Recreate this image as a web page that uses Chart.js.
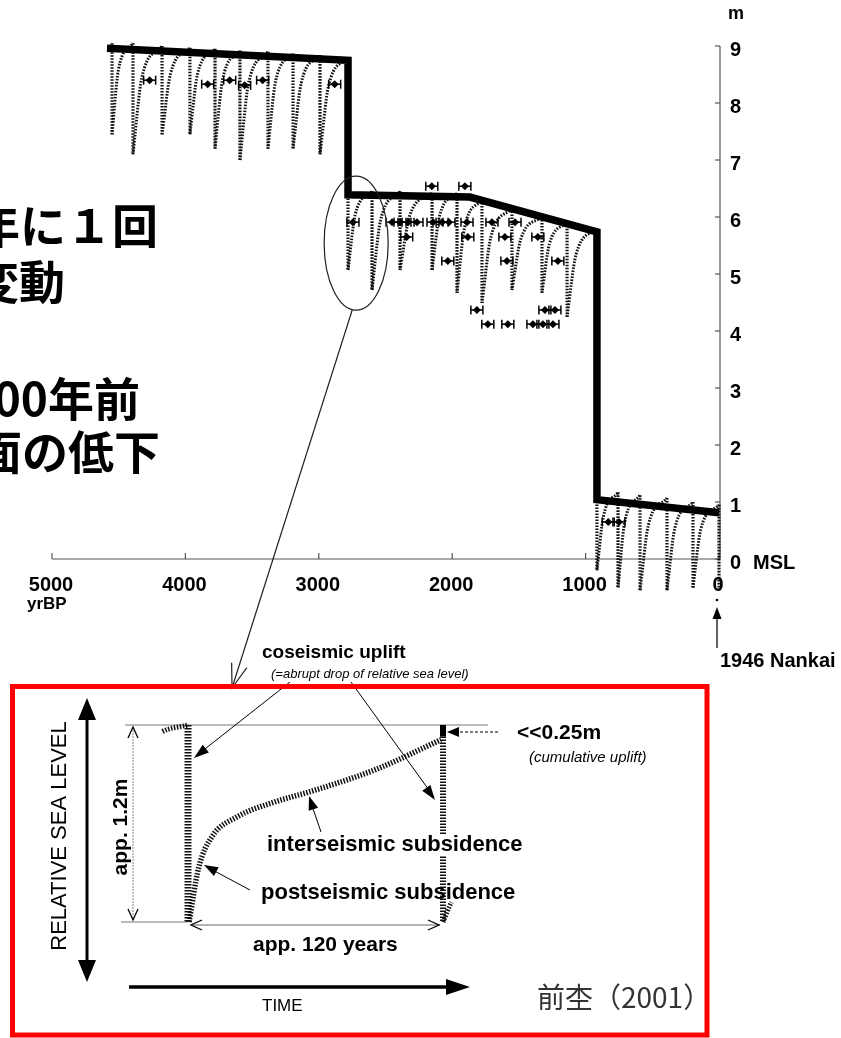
<!DOCTYPE html>
<html>
<head>
<meta charset="utf-8">
<script src="https://cdn.jsdelivr.net/npm/chart.js@4.4.0/dist/chart.umd.min.js"></script>
<style>
  html, body { margin: 0; padding: 0; background: #fff; }
  #wrap { position: relative; width: 841px; height: 1038px; overflow: hidden; }
  canvas { position: absolute; left: 0; top: 0; }
</style>
</head>
<body>
<div id="wrap">
  <canvas id="main" width="841" height="1038"></canvas>
  <canvas id="inset" width="841" height="1038"></canvas>
</div>
<script>
// ---- main chart data (yrBP, metres above MSL) ----
const xTicks = [5000, 4000, 3000, 2000, 1000, 0];
const yTicks = [0, 1, 2, 3, 4, 5, 6, 7, 8, 9];

// thick envelope of the emerged shorelines
const stepYr  = [4588, 2781, 2781, 1868, 915, 915, 0];
const stepLvl = [8.96, 8.75, 6.39, 6.35, 5.74, 1.04, 0.81];

// earthquake events: level before / after the coseismic drop
const quakeYr   = [4550, 4393, 4175, 3966, 3778, 3591, 3381, 3193, 2991, 2781, 2601, 2391, 2151, 1964, 1777, 1552, 1327, 1139, 915, 757, 592, 390, 195, 0];
const quakeHigh = [9.05, 9.05, 9.00, 8.97, 8.95, 8.92, 8.90, 8.87, 8.84, 8.80, 6.45, 6.45, 6.42, 6.42, 6.30, 6.15, 6.00, 5.90, 5.80, 1.17, 1.12, 1.07, 1.00, 0.95];
const quakeLow  = [7.45, 7.10, 7.45, 7.45, 7.20, 7.00, 7.20, 7.20, 7.10, 5.07, 4.72, 5.07, 5.07, 4.67, 4.49, 4.72, 4.67, 4.25, -0.20, -0.50, -0.55, -0.55, -0.50, -0.55];
// bend of each interseismic recovery curve
const kneeYr  = [4503, 4328, 4112, 3910, 3722, 3528, 3325, 3132, 2928, 2727, 2538, 2319, 2095, 1908, 1710, 1485, 1271, 1072, 868, 708, 531, 332, 137];
const kneeLvl = [8.57, 8.43, 8.51, 8.50, 8.40, 8.33, 8.37, 8.35, 8.29, 6.04, 5.93, 6.02, 6.02, 5.81, 5.65, 5.62, 5.53, 5.34, 0.73, 0.63, 0.58, 0.53, 0.52];

// dated fossils (age, level) with age error
const ageYr  = [4268, 3833, 3668, 3556, 3421, 2881,
                2153, 1905,
                2744, 2451, 2391, 2331, 2264, 2144, 2076, 2024, 1889, 1702, 1529,
                2341, 1883, 1605, 1358,
                2033, 1590, 1208,
                1815, 1305, 1230,
                1733, 1583, 1395, 1320, 1245,
                830, 750];
const ageLvl = [8.40, 8.33, 8.40, 8.31, 8.40, 8.33,
                6.54, 6.54,
                5.91, 5.91, 5.91, 5.91, 5.91, 5.91, 5.91, 5.91, 5.91, 5.91, 5.91,
                5.65, 5.65, 5.65, 5.65,
                5.23, 5.23, 5.23,
                4.37, 4.37, 4.37,
                4.12, 4.12, 4.12, 4.12, 4.12,
                0.65, 0.65];
const ageErr = 45;

// ---- inset data (years after event, metres of relative sea level) ----
const cycleT = [0, 120];
const cycleTop = 1.2;
const cycleUplift = 1.13;
const prevT = [-21, -12, 0];
const prevM = [1.07, 1.16, 1.2];
const riseT = [0.5, 5, 11.3, 23, 40.5, 59, 88.5, 119];
const riseM = [0, 0.33, 0.52, 0.64, 0.73, 0.80, 0.93, 1.11];
const nextT = [120, 124, 142];
const nextM = [0, 0.12, 0.33];

const SANS = '"Liberation Sans", Arial, Helvetica, sans-serif';
const CJK = '"Noto Sans CJK JP", "Noto Sans", sans-serif';
const INK = '#111';

function pts(xs, ys) { return xs.map((x, i) => ({ x: x, y: ys[i] })); }

function head(ctx, x1, y1, x2, y2, len, half, filled) {
  const a = Math.atan2(y2 - y1, x2 - x1);
  const bx = x2 - len * Math.cos(a), by = y2 - len * Math.sin(a);
  const px = -Math.sin(a) * half, py = Math.cos(a) * half;
  ctx.beginPath();
  ctx.moveTo(bx + px, by + py);
  ctx.lineTo(x2, y2);
  ctx.lineTo(bx - px, by - py);
  if (filled) { ctx.closePath(); ctx.fill(); } else { ctx.stroke(); }
}

function line(ctx, x1, y1, x2, y2) {
  ctx.beginPath(); ctx.moveTo(x1, y1); ctx.lineTo(x2, y2); ctx.stroke();
}

// ---------------- main chart ----------------
const mainSets = [];
mainSets.push({
  data: pts(stepYr, stepLvl), borderColor: '#000', borderWidth: 7.5,
  borderJoinStyle: 'miter', borderCapStyle: 'butt', tension: 0, pointRadius: 0, clip: false
});
mainSets.push({
  type: 'scatter', data: pts(ageYr, ageLvl), pointStyle: 'rectRot', pointRadius: 4,
  backgroundColor: '#000', borderColor: '#000', borderWidth: 0, errorX: ageErr, clip: false
});
const vert = [];
quakeYr.forEach((t, i) => {
  vert.push({ x: t, y: quakeHigh[i] }, { x: t, y: quakeLow[i] }, { x: t, y: null });
});
mainSets.push({
  data: vert, borderColor: INK, borderWidth: 3.2, borderDash: [1.6, 1.4],
  tension: 0, pointRadius: 0, spanGaps: false, clip: false
});
for (let i = 0; i < kneeYr.length; i++) {
  mainSets.push({
    data: [{ x: quakeYr[i], y: quakeLow[i] }, { x: kneeYr[i], y: kneeLvl[i] }, { x: quakeYr[i + 1], y: quakeHigh[i + 1] }],
    borderColor: INK, borderWidth: 3, borderDash: [1.6, 1.4],
    cubicInterpolationMode: 'monotone', pointRadius: 0, clip: false
  });
}

const mainPlugin = {
  id: 'mainDeco',
  beforeDatasetsDraw(chart) {
    const { ctx, scales: { x, y } } = chart;
    const y0 = y.getPixelForValue(0);
    const xr = x.getPixelForValue(0) + 1;
    ctx.save();
    ctx.strokeStyle = '#555';
    ctx.lineWidth = 1.2;
    line(ctx, x.getPixelForValue(5000), y0, xr, y0);
    line(ctx, xr, y.getPixelForValue(9), xr, y0);
    xTicks.forEach(v => { const px = x.getPixelForValue(v); line(ctx, px, y0, px, y0 - 6); });
    yTicks.forEach(v => { const py = y.getPixelForValue(v); line(ctx, xr, py, xr - 5, py); });
    ctx.restore();
  },
  afterDatasetsDraw(chart) {
    const { ctx, scales: { x } } = chart;
    chart.data.datasets.forEach((ds, di) => {
      if (!ds.errorX) return;
      const meta = chart.getDatasetMeta(di);
      ctx.save();
      ctx.strokeStyle = '#000';
      ctx.lineWidth = 1.5;
      meta.data.forEach((el, i) => {
        const v = ds.data[i].x;
        const a = x.getPixelForValue(v + ds.errorX), b = x.getPixelForValue(v - ds.errorX);
        line(ctx, a, el.y, b, el.y);
        line(ctx, a, el.y - 4.5, a, el.y + 4.5);
        line(ctx, b, el.y - 4.5, b, el.y + 4.5);
      });
      ctx.restore();
    });
  },
  afterDraw(chart) {
    const { ctx, scales: { x, y } } = chart;
    const xr = x.getPixelForValue(0) + 1;
    ctx.save();
    ctx.fillStyle = '#000';
    ctx.font = 'bold 20px ' + SANS;
    ctx.textBaseline = 'middle';
    ctx.textAlign = 'left';
    yTicks.forEach(v => { ctx.fillText(String(v), xr + 10, y.getPixelForValue(v) + 4); });
    ctx.fillText('MSL', xr + 33, y.getPixelForValue(0) + 4);
    ctx.font = 'bold 18px ' + SANS;
    ctx.fillText('m', xr + 8, 14);
    ctx.font = 'bold 20px ' + SANS;
    ctx.textAlign = 'center';
    xTicks.forEach(v => { ctx.fillText(String(v), x.getPixelForValue(v) - 1, 585); });
    ctx.textAlign = 'left';
    ctx.font = 'bold 17px ' + SANS;
    ctx.fillText('yrBP', 27, 604);

    // left Japanese notes (cut at the page edge)
    ctx.font = 'bold 46px ' + CJK;
    ctx.textAlign = 'right';
    ctx.fillText('年に１回', 158, 226);
    ctx.fillText('地殻変動', 65, 282);
    ctx.fillText('3000年前', 140, 399);
    ctx.fillText('海面の低下', 160, 452);

    // ellipse and pointer to the inset
    ctx.strokeStyle = '#222';
    ctx.lineWidth = 1.2;
    const ex = x.getPixelForValue(2720), ey = y.getPixelForValue(5.54);
    ctx.beginPath();
    ctx.ellipse(ex, ey, 32, 67, 0, 0, Math.PI * 2);
    ctx.stroke();
    line(ctx, ex - 4, ey + 67, 232, 688);
    head(ctx, ex - 4, ey + 67, 232, 688, 24, 8, false);

    // 1946 Nankai
    const nx = x.getPixelForValue(0) - 2;
    ctx.beginPath(); ctx.arc(nx, 600, 1.3, 0, Math.PI * 2); ctx.fill();
    ctx.lineWidth = 1.4;
    line(ctx, nx, 648, nx, 612);
    head(ctx, nx, 648, nx, 607, 12, 4.5, true);
    ctx.font = 'bold 20px ' + SANS;
    ctx.textAlign = 'left';
    ctx.fillText('1946 Nankai', 720, 661);
    ctx.restore();
  }
};

new Chart(document.getElementById('main'), {
  type: 'line',
  data: { datasets: mainSets },
  options: {
    responsive: false,
    animation: false,
    layout: { padding: { left: 52, right: 122, top: 46, bottom: 479 } },
    plugins: { legend: { display: false }, tooltip: { enabled: false } },
    scales: {
      x: { type: 'linear', min: 0, max: 5000, reverse: true, display: false },
      y: { type: 'linear', min: 0, max: 9, display: false }
    }
  },
  plugins: [mainPlugin]
});

// ---------------- inset diagram ----------------
const hatch = { borderColor: INK, borderDash: [1.5, 1.5], pointRadius: 0, clip: false };
const insetSets = [
  Object.assign({ data: pts(prevT, prevM), borderWidth: 5, cubicInterpolationMode: 'monotone' }, hatch),
  Object.assign({ data: [{ x: cycleT[0], y: cycleTop }, { x: cycleT[0], y: 0 }], borderWidth: 7 }, hatch),
  Object.assign({ data: pts(riseT, riseM), borderWidth: 5.5, cubicInterpolationMode: 'monotone' }, hatch),
  Object.assign({ data: [{ x: cycleT[1], y: cycleUplift }, { x: cycleT[1], y: 0 }], borderWidth: 6 }, hatch),
  { data: [{ x: cycleT[1], y: cycleTop }, { x: cycleT[1], y: cycleUplift }], borderColor: '#000', borderWidth: 6, pointRadius: 0, clip: false },
  Object.assign({ data: pts(nextT, nextM), borderWidth: 5, cubicInterpolationMode: 'monotone' }, hatch)
];

const insetPlugin = {
  id: 'insetDeco',
  beforeDatasetsDraw(chart) {
    const { ctx, scales: { x, y } } = chart;
    const yt = y.getPixelForValue(cycleTop), yb = y.getPixelForValue(0);
    ctx.save();
    ctx.strokeStyle = '#777';
    ctx.lineWidth = 1;
    line(ctx, 125, yt, 488, yt);
    line(ctx, 121, yb, x.getPixelForValue(0), yb);
    ctx.restore();
  },
  afterDraw(chart) {
    const { ctx, scales: { x, y } } = chart;
    const yt = y.getPixelForValue(cycleTop), yb = y.getPixelForValue(0);
    const x0 = x.getPixelForValue(0), x1 = x.getPixelForValue(120);
    ctx.save();
    ctx.fillStyle = '#000';
    ctx.strokeStyle = '#000';

    // relative sea level double arrow
    ctx.lineWidth = 3;
    line(ctx, 87, 716, 87, 962);
    head(ctx, 87, 760, 87, 698, 22, 9, true);
    head(ctx, 87, 920, 87, 982, 22, 9, true);
    ctx.save();
    ctx.translate(60, 836);
    ctx.rotate(-Math.PI / 2);
    ctx.font = '22px ' + SANS;
    ctx.textAlign = 'center';
    ctx.textBaseline = 'middle';
    ctx.fillText('RELATIVE SEA LEVEL', 0, 0);
    ctx.restore();

    // app. 1.2m dimension
    ctx.strokeStyle = '#888';
    ctx.lineWidth = 1;
    ctx.setLineDash([2, 1]);
    line(ctx, 133, yt + 2, 133, yb - 2);
    ctx.setLineDash([]);
    ctx.strokeStyle = '#000';
    ctx.lineWidth = 1.3;
    head(ctx, 133, yb, 133, yt + 2, 11, 5, false);
    head(ctx, 133, yt, 133, yb - 2, 11, 5, false);
    ctx.save();
    ctx.translate(121, 827);
    ctx.rotate(-Math.PI / 2);
    ctx.font = 'bold 21px ' + SANS;
    ctx.textAlign = 'center';
    ctx.textBaseline = 'middle';
    ctx.fillText('app. 1.2m', 0, 0);
    ctx.restore();

    // app. 120 years dimension
    ctx.strokeStyle = '#666';
    ctx.lineWidth = 1;
    line(ctx, x0 + 3, yb + 3, x1 - 3, yb + 3);
    ctx.strokeStyle = '#000';
    ctx.lineWidth = 1.3;
    head(ctx, x1, yb + 3, x0 + 3, yb + 3, 11, 5, false);
    head(ctx, x0, yb + 3, x1 - 4, yb + 3, 11, 5, false);

    // coseismic arrows
    ctx.lineWidth = 1;
    line(ctx, 290, 682, 196, 756);
    head(ctx, 290, 682, 194, 758, 15, 5, true);
    line(ctx, 351, 682, 434, 797);
    head(ctx, 351, 682, 435, 800, 15, 5, true);
    // interseismic / postseismic arrows
    line(ctx, 321, 832, 310, 800);
    head(ctx, 321, 832, 309, 796, 14, 5, true);
    line(ctx, 250, 890, 207, 867);
    head(ctx, 250, 890, 204, 865, 14, 5, true);
    // cumulative uplift arrow
    ctx.setLineDash([3, 2]);
    line(ctx, 498, 732, 456, 732);
    ctx.setLineDash([]);
    head(ctx, 498, 732, x1 + 4, 732, 12, 5, true);

    // time arrow
    ctx.lineWidth = 3.5;
    line(ctx, 129, 987, 450, 987);
    head(ctx, 129, 987, 470, 987, 24, 8, true);

    // gap in the second drop line behind the label
    ctx.fillStyle = '#fff';
    ctx.fillRect(x1 - 5, 834, 10, 22);
    ctx.fillStyle = '#000';

    ctx.textBaseline = 'middle';
    ctx.textAlign = 'left';
    ctx.font = 'bold 19px ' + SANS;
    ctx.fillText('coseismic uplift', 262, 653);
    ctx.font = 'italic 13px ' + SANS;
    ctx.fillText('(=abrupt drop of relative sea level)', 271, 674);
    ctx.font = 'bold 21px ' + SANS;
    ctx.fillText('<<0.25m', 517, 733);
    ctx.font = 'italic 15px ' + SANS;
    ctx.fillText('(cumulative uplift)', 529, 758);
    ctx.font = 'bold 22px ' + SANS;
    ctx.fillText('interseismic subsidence', 267, 845);
    ctx.fillText('postseismic subsidence', 261, 893);
    ctx.font = 'bold 21px ' + SANS;
    ctx.fillText('app. 120 years', 253, 945);
    ctx.font = '17px ' + SANS;
    ctx.fillText('TIME', 262, 1006);
    ctx.fillStyle = '#333';
    ctx.font = '28px ' + CJK;
    ctx.fillText('前杢（2001）', 537, 997);

    // red frame
    ctx.strokeStyle = '#ff0000';
    ctx.lineWidth = 5;
    ctx.strokeRect(12.5, 686.5, 694.5, 348.5);
    ctx.restore();
  }
};

new Chart(document.getElementById('inset'), {
  type: 'line',
  data: { datasets: insetSets },
  options: {
    responsive: false,
    animation: false,
    layout: { padding: { left: 188, right: 398, top: 725, bottom: 116 } },
    plugins: { legend: { display: false }, tooltip: { enabled: false } },
    scales: {
      x: { type: 'linear', min: 0, max: 120, display: false },
      y: { type: 'linear', min: 0, max: 1.2, display: false }
    }
  },
  plugins: [insetPlugin]
});
</script>
</body>
</html>
